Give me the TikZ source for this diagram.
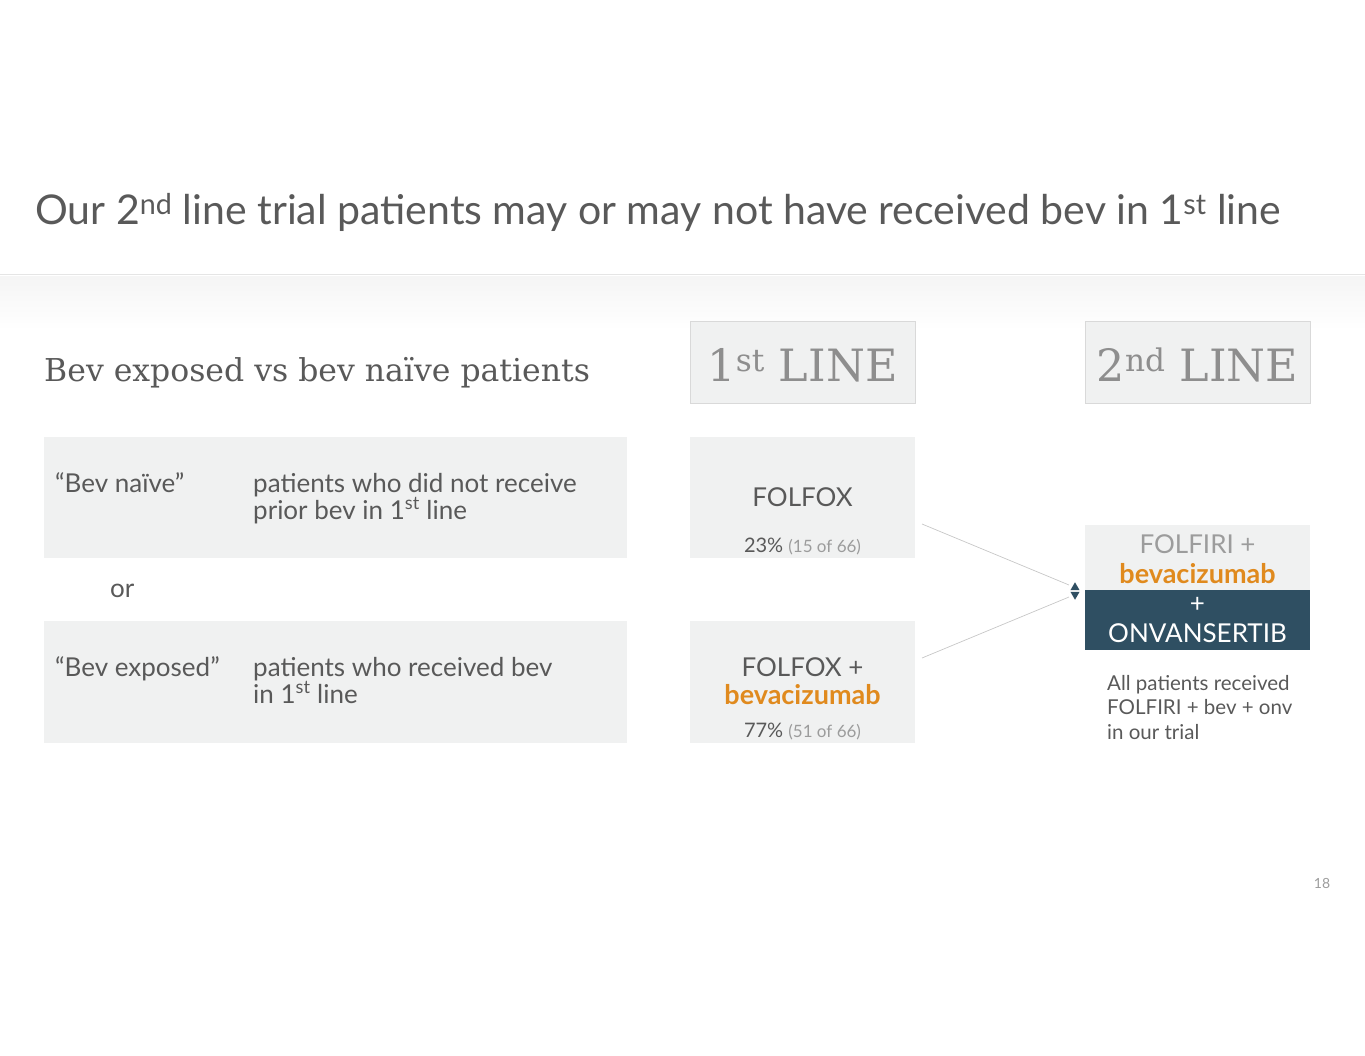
\documentclass[tikz,border=0pt]{standalone}
\usepackage{fontspec}
\setmainfont{Lato}
\newfontfamily\slabfont{DejaVu Serif}
\usetikzlibrary{shapes.geometric}
\definecolor{txtgray}{HTML}{595959}
\definecolor{softgray}{HTML}{9C9C9C}
\definecolor{boxgray}{HTML}{F0F1F1}
\definecolor{hdrgray}{HTML}{8E8E8E}
\definecolor{bevorange}{HTML}{E08A1E}
\definecolor{onvblue}{HTML}{2F4F62}
\newcommand{\fsz}[2]{\fontsize{#1}{#2}\selectfont}
\begin{document}
\begin{tikzpicture}[x=1pt,y=-1pt,
    box/.style={fill=boxgray, inner sep=0, anchor=north west},
    hdrbox/.style={box, draw=black!15, line width=0.6pt, minimum width=225, minimum height=82},
    txt/.style={anchor=base west, inner sep=0, text=txtgray, font=\fsz{26}{27}},
    mid/.style={anchor=base, inner sep=0, text=txtgray, font=\fsz{26}{27}},
    drug/.style={mid, text=bevorange, font=\fsz{27}{27}\bfseries},
    pct/.style={mid, font=\fsz{20}{22}},
    hdr/.style={mid, text=hdrgray, font=\slabfont\fsz{44.5}{50}},
    link/.style={draw=black!22, line width=0.7pt},
    tipmark/.style={regular polygon, regular polygon sides=3, fill=onvblue, inner sep=0, minimum size=10.5}]
    \useasboundingbox (0,0) rectangle (1365,1055);
    % title band
    \shade[top color=black!4, bottom color=white] (0,276) rectangle (1365,330);
    \draw[black!10, line width=1pt] (0,274) -- (1365,274);
    \node[txt, font=\fsz{41}{44}] (title) at (35,224) {Our 2\textsuperscript{nd} line trial patients may or may not have received bev in 1\textsuperscript{st} line};
    \node[txt, font=\slabfont\fsz{31.5}{34}] (heading) at (44,381) {Bev exposed vs bev naïve patients};
    % left definitions (multi-line texts sit on their last baseline)
    \node[box, minimum width=583, minimum height=121] (naive) at (44,437) {};
    \node[box, minimum width=583, minimum height=122] (exposed) at (44,621) {};
    \node[txt] (naivelbl) at (55,492) {“Bev naïve”};
    \node[txt, align=left] (naivedef) at (253,519) {patients who did not receive\\prior bev in 1\textsuperscript{st} line};
    \node[txt] (or) at (110,597) {or};
    \node[txt] (exposedlbl) at (55,676) {“Bev exposed”};
    \node[txt, align=left] (exposeddef) at (253,703) {patients who received bev\\in 1\textsuperscript{st} line};
    % 1st line
    \node[hdrbox] (first) at (690,321) {};
    \node[hdr] (firstlbl) at (802.5,381) {1\textsuperscript{st} LINE};
    \node[box, minimum width=225, minimum height=121] (folfox) at (690,437) {};
    \node[mid] (folfoxlbl) at (802.5,506) {FOLFOX};
    \node[pct] (folfoxpct) at (802.5,552) {23\% {\color{softgray}\fsz{17}{20}(15 of 66)}};
    \node[box, minimum width=225, minimum height=122] (folfoxbev) at (690,621) {};
    \node[mid] (folfoxbevlbl) at (802.5,676) {FOLFOX +};
    \node[drug] (folfoxbevdrug) at (802.5,704) {bevacizumab};
    \node[pct] (folfoxbevpct) at (802.5,737) {77\% {\color{softgray}\fsz{17}{20}(51 of 66)}};
    % 2nd line
    \node[hdrbox] (second) at (1085,321) {};
    \node[hdr] (secondlbl) at (1197.5,381) {2\textsuperscript{nd} LINE};
    \node[box, minimum width=225, minimum height=65] (folfiri) at (1085,525) {};
    \node[box, fill=onvblue, minimum width=225, minimum height=60] (onv) at (1085,590) {};
    \node[mid, text=softgray] (folfirilbl) at (1197.5,553) {FOLFIRI +};
    \node[drug] (folfiridrug) at (1197.5,583) {bevacizumab};
    \node[mid, text=white] (pluslbl) at (1197.5,612) {+};
    \node[mid, text=white] (onvlbl) at (1197.5,642) {ONVANSERTIB};
    \node[txt, align=left, font=\fsz{20.5}{24.5}] (alllbl) at (1107,739) {All patients received\\FOLFIRI + bev + onv\\in our trial};
    % connectors
    \coordinate (fromnaive) at (922,524);
    \coordinate (fromexposed) at (922,658);
    \coordinate (intonaive) at (1069,585);
    \coordinate (intoexposed) at (1069,597);
    \path[link] (fromnaive) -- (intonaive);
    \path[link] (fromexposed) -- (intoexposed);
    \node[tipmark] (tipup) at (1075,587.5) {};
    \node[tipmark, rotate=180] (tipdown) at (1075,594.5) {};
    \node[anchor=base, inner sep=0, text=softgray, font=\fsz{14}{16}] (page) at (1322,888) {18};
\end{tikzpicture}
\end{document}
